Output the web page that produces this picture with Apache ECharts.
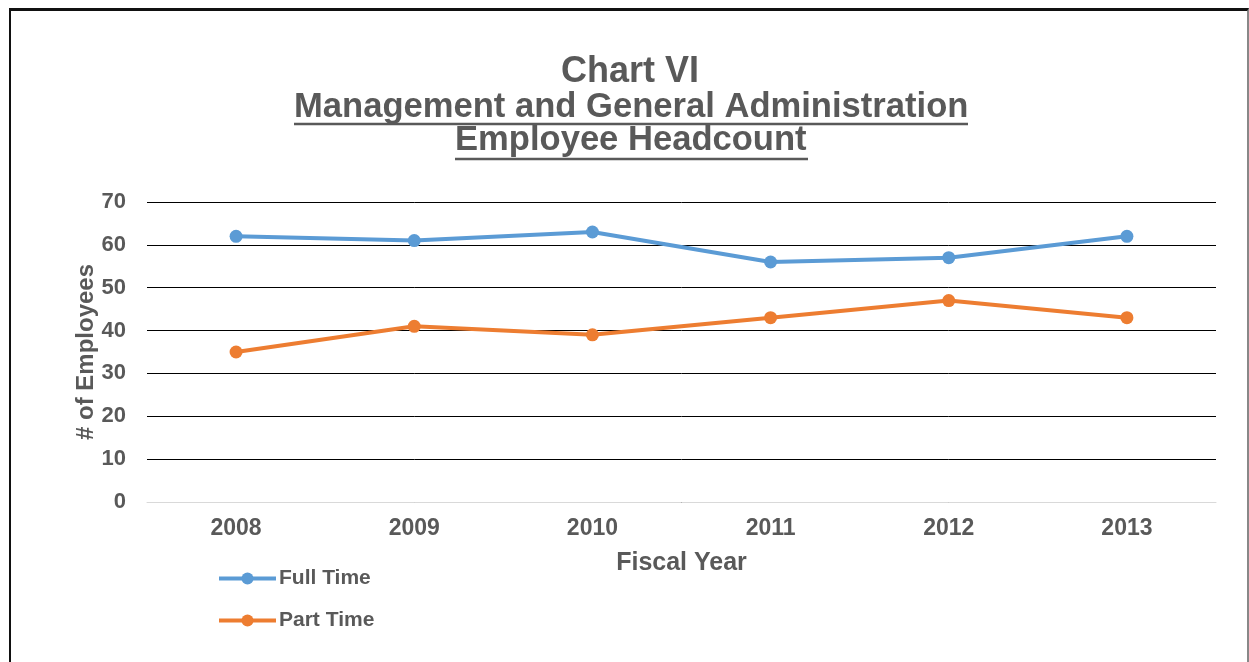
<!DOCTYPE html>
<html>
<head>
<meta charset="utf-8">
<script src="https://cdn.jsdelivr.net/npm/echarts@6/dist/echarts.min.js"></script>
<style>
  html, body { margin: 0; padding: 0; background: #fff; }
  #frame {
    position: absolute; left: 9px; top: 8px; width: 1236px; height: 660px;
    border-top: 3px solid #111; border-left: 2px solid #111; border-right: 2px solid #888;
  }
  #chart { position: absolute; left: 0; top: 0; width: 1249px; height: 662px; }
</style>
</head>
<body>
<div id="frame"></div>
<div id="chart"></div>
<script>
const years = ['2008', '2009', '2010', '2011', '2012', '2013'];
const fullTime = [62, 61, 63, 56, 57, 62];
const partTime = [35, 41, 39, 43, 47, 43];
const yTicks = { min: 0, max: 70, interval: 10 };

const textColor = '#595959';
const font = 'Liberation Sans, Arial, sans-serif';
const titleStyle = { fontSize: 34.6, fontWeight: 'bold', color: textColor, fontFamily: font };

const chart = echarts.init(document.getElementById('chart'));

chart.setOption({
  animation: false,
  textStyle: { fontFamily: font },
  title: [
    { text: 'Chart VI', left: 561, top: 54, padding: 0, textStyle: Object.assign({}, titleStyle, { fontSize: 36 }) },
    { text: 'Management and General Administration', left: 294, top: 90, padding: 0, textStyle: titleStyle },
    { text: 'Employee Headcount', left: 455, top: 123, padding: 0, textStyle: titleStyle }
  ],
  graphic: [
    { type: 'line', shape: { x1: 294, y1: 124, x2: 968, y2: 124 }, style: { stroke: textColor, lineWidth: 2.5 } },
    { type: 'line', shape: { x1: 455, y1: 159, x2: 808, y2: 159 }, style: { stroke: textColor, lineWidth: 2.5 } }
  ],
  legend: {
    orient: 'vertical',
    left: 217, top: 568, padding: 0,
    itemWidth: 57, itemHeight: 15, itemGap: 21,
    lineStyle: { width: 4 },
    textStyle: { fontSize: 21, fontWeight: 'bold', color: textColor, fontFamily: font, padding: [0, 0, 0, -2] },
    data: ['Full Time', 'Part Time']
  },
  grid: { left: 147, right: 33, top: 202, bottom: 160 },
  xAxis: {
    type: 'category',
    data: years,
    boundaryGap: true,
    name: 'Fiscal Year',
    nameLocation: 'middle',
    nameGap: 49,
    nameTextStyle: { fontSize: 25, fontWeight: 'bold', color: textColor, fontFamily: font },
    axisLine: { lineStyle: { color: '#d9d9d9', width: 1 } },
    axisTick: { show: false },
    axisLabel: { fontSize: 23, fontWeight: 'bold', color: textColor, margin: 15, fontFamily: font }
  },
  yAxis: {
    type: 'value',
    min: yTicks.min, max: yTicks.max, interval: yTicks.interval,
    name: '# of Employees',
    nameLocation: 'middle',
    nameGap: 49,
    nameMoveOverlap: false,
    nameTextStyle: { fontSize: 24, fontWeight: 'bold', color: textColor, fontFamily: font },
    axisLine: { show: false },
    axisTick: { show: false },
    axisLabel: { fontSize: 22, fontWeight: 'bold', color: textColor, margin: 21, fontFamily: font },
    splitLine: { lineStyle: { color: '#000', width: 1 } }
  },
  series: [
    {
      name: 'Full Time', type: 'line', data: fullTime,
      symbol: 'circle', symbolSize: 13,
      lineStyle: { color: '#5B9BD5', width: 4 },
      itemStyle: { color: '#5B9BD5' }
    },
    {
      name: 'Part Time', type: 'line', data: partTime,
      symbol: 'circle', symbolSize: 13,
      lineStyle: { color: '#ED7D31', width: 4 },
      itemStyle: { color: '#ED7D31' }
    }
  ]
});
</script>
</body>
</html>
